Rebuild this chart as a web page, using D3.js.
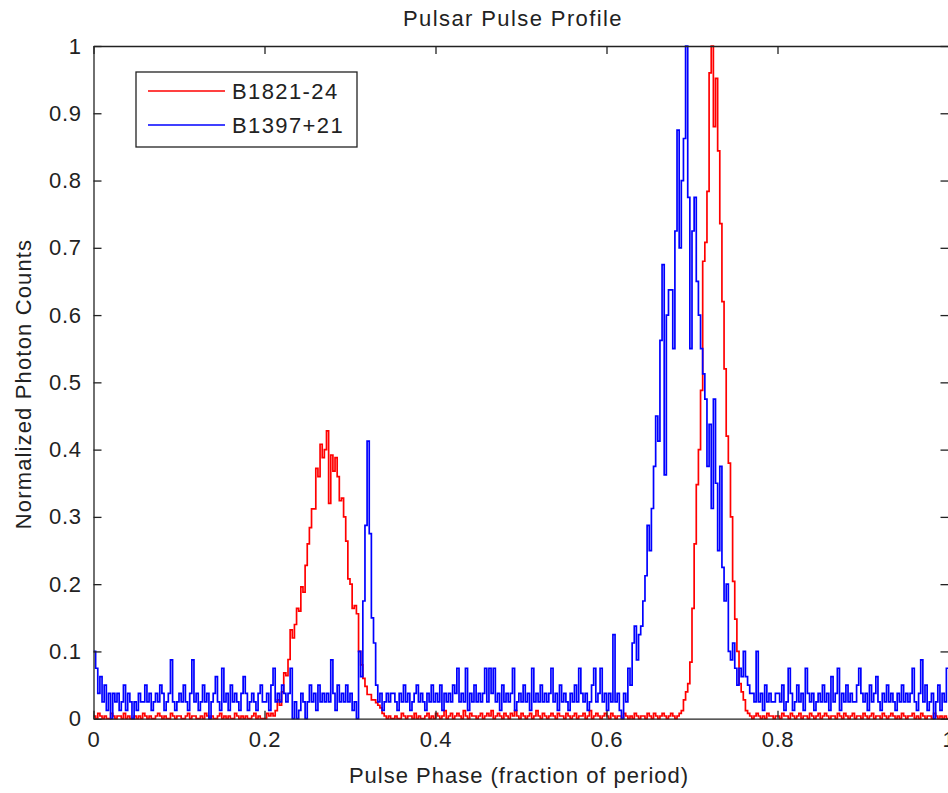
<!DOCTYPE html>
<html lang="en">
<head>
<meta charset="utf-8">
<title>Pulsar Pulse Profile</title>
<script src="https://cdn.jsdelivr.net/npm/d3@7"></script>
<style>
  body { margin:0; background:#fff; }
  text { font-family: "Liberation Sans", Arial, sans-serif; fill:#222; }
</style>
</head>
<body>
<div id="chart"></div>
<script>
// photon counts per phase bin (400 bins over one period), normalized by each pulsar's peak bin
var seriesNames = ["B1821-24", "B1397+21"]
var seriesColors = ["#ff0000", "#0000ff"]

var countsB1821 = [
  1,0,2,1,0,1,0,0,2,1,0,1,1,0,2,0,1,0,0,1,
  0,1,0,2,1,0,1,0,0,1,2,1,0,1,0,0,2,1,0,1,
  1,0,0,1,2,0,1,1,0,0,1,0,2,1,0,1,0,0,1,2,
  0,1,0,1,0,0,2,1,0,1,0,1,0,0,1,2,0,1,0,0,
  0,2,1,2,1,3,7,5,10,17,16,22,33,30,35,41,40,49,47,57,
  65,71,78,78,93,90,102,97,100,107,80,98,92,97,90,81,82,75,66,52,
  50,41,42,39,25,20,15,12,9,9,7,7,6,5,4,2,1,0,1,0,
  0,1,0,0,2,1,0,1,1,0,2,0,1,0,0,1,2,0,1,0,
  2,1,0,1,3,0,1,2,0,1,2,1,0,3,1,0,2,1,1,0,
  1,2,0,1,2,1,3,0,1,2,1,0,2,1,0,2,1,3,1,0,
  2,1,0,1,2,0,1,3,1,0,2,1,0,1,2,1,0,2,1,1,
  0,2,1,0,1,2,0,1,1,2,0,1,3,0,1,2,1,0,1,2,
  1,0,2,1,0,1,1,0,2,1,0,1,0,2,1,0,1,1,0,2,
  1,0,2,1,0,1,2,1,0,1,2,1,0,1,2,3,7,10,13,21,
  41,65,87,100,122,170,177,196,240,250,220,238,211,184,155,130,105,95,75,51,
  37,25,13,10,7,3,2,1,0,1,2,1,0,1,0,2,1,1,0,1,
  1,0,2,1,1,0,2,1,0,1,2,0,1,1,0,2,1,0,1,2,
  0,1,2,1,0,1,1,0,2,1,0,2,1,0,1,2,0,1,1,0,
  2,1,0,1,2,0,1,1,0,2,1,0,1,2,1,0,1,0,2,1,
  0,1,1,2,0,1,0,2,1,0,1,1,0,2,1,0,1,0,1,0
]

var countsB1397 = [
  8,6,3,5,2,4,1,3,0,3,2,3,1,2,4,1,3,2,0,2,
  1,3,2,2,4,2,3,1,2,3,2,4,3,1,2,3,7,2,1,2,
  3,2,4,2,1,3,7,2,3,1,2,4,2,3,0,2,3,5,2,1,
  6,2,3,1,4,2,3,2,1,3,5,3,1,2,3,2,1,3,4,2,
  2,3,1,4,6,2,3,2,4,3,2,3,6,0,2,0,1,3,2,0,
  2,4,2,3,1,4,2,3,2,3,2,7,3,1,4,2,3,2,4,2,
  3,1,2,0,8,5,14,23,33,22,12,9,4,2,3,1,2,3,2,3,
  3,2,1,3,2,4,2,3,1,2,3,4,2,3,2,1,3,2,4,2,
  3,2,4,1,3,2,3,2,4,3,6,2,3,2,6,1,3,2,4,2,
  3,2,3,6,2,6,3,6,2,3,1,4,2,3,2,3,6,1,2,3,
  2,4,2,3,1,6,2,3,2,4,2,3,2,3,6,2,3,1,4,2,
  3,2,1,3,2,4,2,6,3,2,3,1,2,4,6,2,3,6,2,3,
  1,3,2,10,2,3,1,0,3,2,6,4,9,11,7,10,11,14,17,23,
  20,25,30,36,33,45,54,29,48,51,51,44,58,70,56,64,69,80,62,44,
  58,62,52,48,44,41,38,30,35,25,38,28,20,30,18,14,16,8,7,9,
  6,4,6,5,8,5,4,3,3,2,8,2,3,1,4,2,3,2,2,3,
  3,2,4,1,2,6,3,1,2,4,2,3,1,6,3,2,3,1,2,3,
  2,4,2,3,1,5,2,3,6,1,3,2,4,2,3,2,2,4,6,3,
  2,3,1,4,2,3,5,2,1,3,2,4,2,3,2,1,3,2,4,2,
  3,2,3,6,2,1,3,7,2,4,1,2,3,0,2,4,1,3,2,6
]

var xTicks = [0, 0.2, 0.4, 0.6, 0.8, 1]
var yTicks = [0, 0.1, 0.2, 0.3, 0.4, 0.5, 0.6, 0.7, 0.8, 0.9, 1]

var W = 948, H = 793
var plotL = 93.5, plotR = 948.5, plotT = 46, plotB = 718.7

var svg = d3.select("#chart").append("svg").attr("width", W).attr("height", H)

var x = d3.scaleLinear().domain([0, 1]).range([plotL, plotR])
var y = d3.scaleLinear().domain([0, 1]).range([plotB, plotT])

function toSteps(counts){
  var peak = d3.max(counts)
  var n = counts.length
  var pts = counts.map(function(c, i){ return [i / n, c / peak] })
  pts.push([1, counts[n - 1] / peak])
  return pts
}

svg.append("clipPath").attr("id", "clip")
  .append("rect").attr("x", plotL).attr("y", plotT - 1).attr("width", plotR - plotL).attr("height", plotB - plotT + 2)

var line = d3.line()
  .x(function(d){ return x(d[0]) })
  .y(function(d){ return y(d[1]) })
  .curve(d3.curveStepAfter)

var allSeries = [countsB1821, countsB1397]
svg.append("g").attr("clip-path", "url(#clip)")
  .selectAll("path")
  .data(allSeries)
  .enter()
  .append("path")
  .attr("d", function(d){ return line(toSteps(d)) })
  .attr("fill", "none")
  .attr("stroke", function(d, i){ return seriesColors[i] })
  .attr("stroke-width", 1.7)

// axes, ticks pointing in like matlab
var fmt = d3.format("~g")
function styleAxis(g){
  g.select(".domain").attr("stroke", "#222").attr("stroke-width", 1.3).attr("fill", "none")
  g.selectAll(".tick line").attr("stroke", "#222").attr("stroke-width", 1.3)
  g.selectAll("text").style("font-size", "22px").style("letter-spacing", "0.6px")
}

svg.append("g").attr("transform", "translate(0," + plotB + ")")
  .call(d3.axisBottom(x).tickValues(xTicks).tickFormat(fmt).tickSizeInner(-8).tickSizeOuter(0).tickPadding(13))
  .call(styleAxis)
svg.append("g").attr("transform", "translate(0," + plotT + ")")
  .call(d3.axisTop(x).tickValues(xTicks).tickFormat("").tickSizeInner(-8).tickSizeOuter(0))
  .call(styleAxis)
svg.append("g").attr("transform", "translate(" + plotL + ",0)")
  .call(d3.axisLeft(y).tickValues(yTicks).tickFormat(fmt).tickSizeInner(-8).tickSizeOuter(0).tickPadding(12))
  .call(styleAxis)
svg.append("g").attr("transform", "translate(" + plotR + ",0)")
  .call(d3.axisRight(y).tickValues(yTicks).tickFormat("").tickSizeInner(-8).tickSizeOuter(0))
  .call(styleAxis)

svg.append("text").attr("x", 513).attr("y", 26).attr("text-anchor", "middle")
  .style("font-size", "22px").style("letter-spacing", "1.4px").text("Pulsar Pulse Profile")
svg.append("text").attr("x", 519).attr("y", 783).attr("text-anchor", "middle")
  .style("font-size", "22px").style("letter-spacing", "1px").text("Pulse Phase (fraction of period)")
svg.append("text").attr("transform", "translate(31,384) rotate(-90)").attr("text-anchor", "middle")
  .style("font-size", "22px").style("letter-spacing", "1.15px").text("Normalized Photon Counts")

// legend
var lg = svg.append("g")
lg.append("rect").attr("x", 136).attr("y", 72).attr("width", 221).attr("height", 75)
  .attr("fill", "#fff").attr("stroke", "#222").attr("stroke-width", 1.3)
seriesNames.forEach(function(name, i){
  var ly = 91 + i * 34
  lg.append("line").attr("x1", 148).attr("x2", 225).attr("y1", ly).attr("y2", ly)
    .attr("stroke", seriesColors[i]).attr("stroke-width", 1.7)
  lg.append("text").attr("x", 232).attr("y", ly + 8)
    .style("font-size", "22px").style("letter-spacing", "1.4px").text(name)
})
</script>
</body>
</html>
